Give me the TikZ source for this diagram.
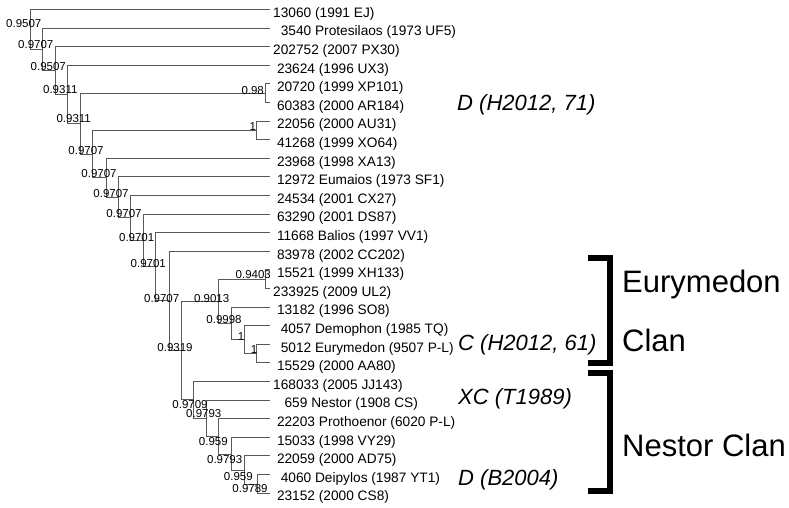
\documentclass[tikz,border=0pt]{standalone}
\usepackage{fontspec}
\setmainfont{Liberation Sans}
\usepackage{tikz}

\tikzset{
  branch/.style={draw=black!65, line width=0.7pt},
  leaf/.style={anchor=west, inner xsep=3pt, inner ysep=0pt, text height=15.8pt, text depth=0pt, font=\fontsize{13.7}{14}\selectfont},
  support/.style={inner sep=0pt, font=\fontsize{11.5}{12}\selectfont},
  ref/.style={anchor=base west, inner sep=0pt, font=\fontsize{22}{24}\selectfont\itshape},
  clan/.style={anchor=base west, inner sep=0pt, font=\fontsize{31}{34}\selectfont},
  bracket/.style={draw=black, line width=6pt},
}

\begin{document}
\begin{tikzpicture}[x=1pt, y=-1pt]
        \useasboundingbox (0,0) rectangle (789,507);

        % tips
        \node[leaf] (l1) at (270,9.3) {13060 (1991 EJ)};
        \node[leaf] (l2) at (270,27.9) {\ \ 3540 Protesilaos (1973 UF5)};
        \node[leaf] (l3) at (270,46.5) {202752 (2007 PX30)};
        \node[leaf] (l4) at (270,65.1) {\ 23624 (1996 UX3)};
        \node[leaf] (l5) at (270,83.7) {\ 20720 (1999 XP101)};
        \node[leaf] (l6) at (270,102.3) {\ 60383 (2000 AR184)};
        \node[leaf] (l7) at (270,120.9) {\ 22056 (2000 AU31)};
        \node[leaf] (l8) at (270,139.5) {\ 41268 (1999 XO64)};
        \node[leaf] (l9) at (270,158.1) {\ 23968 (1998 XA13)};
        \node[leaf] (l10) at (270,176.7) {\ 12972 Eumaios (1973 SF1)};
        \node[leaf] (l11) at (270,195.3) {\ 24534 (2001 CX27)};
        \node[leaf] (l12) at (270,213.9) {\ 63290 (2001 DS87)};
        \node[leaf] (l13) at (270,232.5) {\ 11668 Balios (1997 VV1)};
        \node[leaf] (l14) at (270,251.1) {\ 83978 (2002 CC202)};
        \node[leaf] (l15) at (270,269.7) {\ 15521 (1999 XH133)};
        \node[leaf] (l16) at (270,288.3) {233925 (2009 UL2)};
        \node[leaf] (l17) at (270,306.9) {\ 13182 (1996 SO8)};
        \node[leaf] (l18) at (270,325.5) {\ \ 4057 Demophon (1985 TQ)};
        \node[leaf] (l19) at (270,344.1) {\ \ 5012 Eurymedon (9507 P-L)};
        \node[leaf] (l20) at (270,362.7) {\ 15529 (2000 AA80)};
        \node[leaf] (l21) at (270,381.3) {168033 (2005 JJ143)};
        \node[leaf] (l22) at (270,399.9) {\ \ \ 659 Nestor (1908 CS)};
        \node[leaf] (l23) at (270,418.5) {\ 22203 Prothoenor (6020 P-L)};
        \node[leaf] (l24) at (270,437.1) {\ 15033 (1998 VY29)};
        \node[leaf] (l25) at (270,455.7) {\ 22059 (2000 AD75)};
        \node[leaf] (l26) at (270,474.3) {\ \ 4060 Deipylos (1987 YT1)};
        \node[leaf] (l27) at (270,492.9) {\ 23152 (2000 CS8)};

        % inner nodes
        \coordinate (root) at (30.7,29.2);
        \coordinate (n2) at (42.7,49.2);
        \coordinate (n3) at (55,70.4);
        \coordinate (n4) at (67.7,94.3);
        \coordinate (n5) at (80.7,123.5);
        \coordinate (pa) at (265,93);
        \coordinate (n6) at (92.7,153.9);
        \coordinate (pb) at (256.7,130.2);
        \coordinate (n7) at (106,177.7);
        \coordinate (n8) at (118.3,197.2);
        \coordinate (n9) at (130.7,217.8);
        \coordinate (n10) at (143.3,240.25);
        \coordinate (n11) at (155.3,266.6);
        \coordinate (n12) at (169,300.7);
        \coordinate (n13) at (181.7,350.3);
        \coordinate (ne) at (218.3,301.1);
        \coordinate (pc) at (265,279);
        \coordinate (nf) at (231,323.2);
        \coordinate (ng) at (244,339.5);
        \coordinate (nh) at (256.7,353.4);
        \coordinate (q1) at (193.3,399.5);
        \coordinate (q2) at (206,418);
        \coordinate (q3) at (218.3,436.5);
        \coordinate (q4) at (231,454);
        \coordinate (q5) at (244,470);
        \coordinate (p1) at (257.3,484.5);

        % branches
        \draw[branch] (root) |- (l1);   \draw[branch] (root) |- (n2);
        \draw[branch] (n2) |- (l2);     \draw[branch] (n2) |- (n3);
        \draw[branch] (n3) |- (l3);     \draw[branch] (n3) |- (n4);
        \draw[branch] (n4) |- (l4);     \draw[branch] (n4) |- (n5);
        \draw[branch] (n5) |- (pa);     \draw[branch] (n5) |- (n6);
        \draw[branch] (pa) |- (l5);     \draw[branch] (pa) |- (l6);
        \draw[branch] (n6) |- (pb);     \draw[branch] (n6) |- (n7);
        \draw[branch] (pb) |- (l7);     \draw[branch] (pb) |- (l8);
        \draw[branch] (n7) |- (l9);     \draw[branch] (n7) |- (n8);
        \draw[branch] (n8) |- (l10);    \draw[branch] (n8) |- (n9);
        \draw[branch] (n9) |- (l11);    \draw[branch] (n9) |- (n10);
        \draw[branch] (n10) |- (l12);   \draw[branch] (n10) |- (n11);
        \draw[branch] (n11) |- (l13);   \draw[branch] (n11) |- (n12);
        \draw[branch] (n12) |- (l14);   \draw[branch] (n12) |- (n13);
        \draw[branch] (n13) |- (ne);    \draw[branch] (n13) |- (q1);
        \draw[branch] (ne) |- (pc);     \draw[branch] (ne) |- (nf);
        \draw[branch] (pc) |- (l15);    \draw[branch] (pc) |- (l16);
        \draw[branch] (nf) |- (l17);    \draw[branch] (nf) |- (ng);
        \draw[branch] (ng) |- (l18);    \draw[branch] (ng) |- (nh);
        \draw[branch] (nh) |- (l19);    \draw[branch] (nh) |- (l20);
        \draw[branch] (q1) |- (l21);    \draw[branch] (q1) |- (q2);
        \draw[branch] (q2) |- (l22);    \draw[branch] (q2) |- (q3);
        \draw[branch] (q3) |- (l23);    \draw[branch] (q3) |- (q4);
        \draw[branch] (q4) |- (l24);    \draw[branch] (q4) |- (q5);
        \draw[branch] (q5) |- (l25);    \draw[branch] (q5) |- (p1);
        \draw[branch] (p1) |- (l26);    \draw[branch] (p1) |- (l27);

        % support values
        \node[support] (sroot) at (23.8,24) {0.9507};
        \node[support] (s2) at (35.8,45) {0.9707};
        \node[support] (s3) at (48.3,66.7) {0.9507};
        \node[support] (s4) at (60.3,90) {0.9311};
        \node[support] (s5) at (73.7,119) {0.9311};
        \node[support] (sa) at (252.7,90.7) {0.98};
        \node[support] (s6) at (86,150.7) {0.9707};
        \node[support] (sb) at (252.7,126.7) {1};
        \node[support] (s7) at (99,173.3) {0.9707};
        \node[support] (s8) at (111,193.3) {0.9707};
        \node[support] (s9) at (124,213.3) {0.9707};
        \node[support] (s10) at (136.7,237.3) {0.9701};
        \node[support] (s11) at (148.3,264) {0.9701};
        \node[support] (s12) at (161.7,298.3) {0.9707};
        \node[support] (s13) at (175,347.3) {0.9319};
        \node[support] (se) at (211.7,298.3) {0.9013};
        \node[support] (sc) at (253.3,275) {0.9403};
        \node[support] (sf) at (224,320) {0.9998};
        \node[support] (sg) at (241,336.7) {1};
        \node[support] (sh) at (254,350) {1};
        \node[support] (sq1) at (190,405) {0.9709};
        \node[support] (sq2) at (203.8,414) {0.9793};
        \node[support] (sq3) at (213.3,441.7) {0.959};
        \node[support] (sq4) at (224.7,459.3) {0.9793};
        \node[support] (sq5) at (238.3,476.7) {0.959};
        \node[support] (sp1) at (250,488.3) {0.9789};

        % references
        \node[ref] (dh) at (457,110) {D (H2012, 71)};
        \node[ref] (ch) at (458,350) {C (H2012, 61)};
        \node[ref] (xc) at (458,404) {XC (T1989)};
        \node[ref] (db) at (458,485) {D (B2004)};

        % clans
        \draw[bracket] (588,257.5) -| (609.5,362.5) -- (588,362.5);
        \draw[bracket] (588,372.5) -| (609.5,490.5) -- (588,490.5);
        \node[clan] (eury) at (622,292) {Eurymedon};
        \node[clan] (eclan) at (622,351) {Clan};
        \node[clan] (nestor) at (622,456) {Nestor Clan};
    \end{tikzpicture}
\end{document}
